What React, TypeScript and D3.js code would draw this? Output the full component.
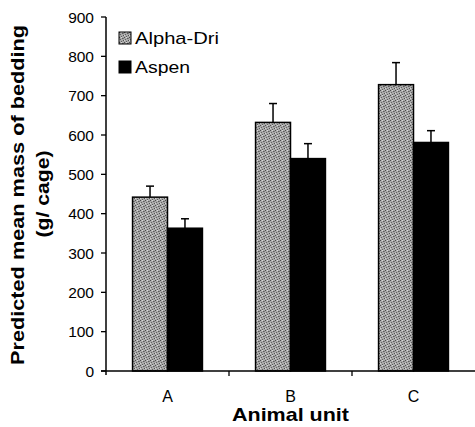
import React from "react";
import * as d3 from "d3";

const categories = ["A", "B", "C"];
const seriesNames = ["Alpha-Dri", "Aspen"];
const alphaValues = [442, 632, 728];
const alphaErrors = [28, 48, 56];
const aspenValues = [363, 540, 581];
const aspenErrors = [24, 38, 30];
const yTicks = [0, 100, 200, 300, 400, 500, 600, 700, 800, 900];

const W = 475;
const H = 427;
const left = 106;
const right = 475;
const top = 17;
const bottom = 371;

export default function App() {
  const x = d3.scaleBand<string>().domain(categories).range([left, right]).paddingInner(0).paddingOuter(0);
  const inner = d3.scaleBand<string>().domain(seriesNames).range([0, x.bandwidth()]).paddingInner(0).paddingOuter(0.76);
  const y = d3.scaleLinear().domain([0, 900]).range([bottom, top]);
  const series = [
    { name: seriesNames[0], values: alphaValues, errors: alphaErrors, fill: "url(#stipple)" },
    { name: seriesNames[1], values: aspenValues, errors: aspenErrors, fill: "#000" },
  ];
  const font = "Arial, 'Liberation Sans', Helvetica, sans-serif";
  return (
    <svg width={W} height={H} style={{ position: "absolute", left: 0, top: 0, background: "#fff" }} fontFamily={font}>
      <defs>
        <pattern id="stipple" width="5" height="5" patternUnits="userSpaceOnUse">
          <rect width="5" height="5" fill="#a9a9a9" />
          <rect x="0" y="0" width="1" height="1" fill="#4a4a4a" />
          <rect x="3" y="1" width="1" height="1" fill="#5a5a5a" />
          <rect x="1" y="2" width="1" height="1" fill="#626262" />
          <rect x="4" y="3" width="1" height="1" fill="#505050" />
          <rect x="2" y="4" width="1" height="1" fill="#5c5c5c" />
          <rect x="2" y="0" width="1" height="1" fill="#d8d8d8" />
          <rect x="0" y="3" width="1" height="1" fill="#d4d4d4" />
          <rect x="4" y="1" width="1" height="1" fill="#7a7a7a" />
        </pattern>
      </defs>
      {/* bars */}
      {series.map((s) =>
        categories.map((c, i) => {
          const bx = (x(c) as number) + (inner(s.name) as number);
          const bw = inner.bandwidth();
          const yv = y(s.values[i]);
          const ye = y(s.values[i] + s.errors[i]);
          const cx = bx + bw / 2;
          return (
            <g key={s.name + c}>
              <line x1={cx} x2={cx} y1={yv} y2={ye} stroke="#000" strokeWidth={1.5} />
              <line x1={cx - 4} x2={cx + 4} y1={ye} y2={ye} stroke="#000" strokeWidth={1.5} />
              <rect x={bx} y={yv} width={bw} height={bottom - yv} fill={s.fill} stroke="#000" strokeWidth={1.5} />
            </g>
          );
        })
      )}
      {/* y axis */}
      <line x1={left} x2={left} y1={top} y2={bottom + 4} stroke="#000" strokeWidth={1.5} />
      {yTicks.map((t) => (
        <g key={t}>
          <line x1={left - 5} x2={left} y1={y(t)} y2={y(t)} stroke="#000" strokeWidth={1.3} />
          <text x={left - 12} y={y(t)} dy="0.36em" textAnchor="end" fontSize={15.5} fill="#000">
            {t}
          </text>
        </g>
      ))}
      {/* x axis */}
      <line x1={left - 5} x2={right} y1={bottom} y2={bottom} stroke="#000" strokeWidth={1.5} />
      {categories.slice(1).map((c) => (
        <line key={c} x1={x(c) as number} x2={x(c) as number} y1={bottom} y2={bottom + 5} stroke="#000" strokeWidth={1.3} />
      ))}
      {categories.map((c) => (
        <text key={c} x={(x(c) as number) + x.bandwidth() / 2} y={402} textAnchor="middle" fontSize={16} fill="#000">
          {c}
        </text>
      ))}
      <text x={(left + right) / 2} y={421} textAnchor="middle" fontSize={19} fontWeight="bold" fill="#000" textLength={117} lengthAdjust="spacingAndGlyphs">
        Animal unit
      </text>
      {/* y title */}
      <text transform="translate(24,195) rotate(-90)" textAnchor="middle" fontSize={17.5} fontWeight="bold" fill="#000" textLength={340} lengthAdjust="spacingAndGlyphs">
        Predicted mean mass of bedding
      </text>
      <text transform="translate(49,194) rotate(-90)" textAnchor="middle" fontSize={17.5} fontWeight="bold" fill="#000" textLength={87} lengthAdjust="spacingAndGlyphs">
        (g/ cage)
      </text>
      {/* legend */}
      {series.map((s, i) => (
        <g key={s.name} transform={`translate(119, ${32 + i * 29})`}>
          <rect x={0} y={0} width={12} height={12} fill={s.fill} stroke="#000" strokeWidth={1} />
          <text x={16} y={12} fontSize={17} fill="#000" textLength={i === 0 ? 84 : 55} lengthAdjust="spacingAndGlyphs">
            {s.name}
          </text>
        </g>
      ))}
    </svg>
  );
}
